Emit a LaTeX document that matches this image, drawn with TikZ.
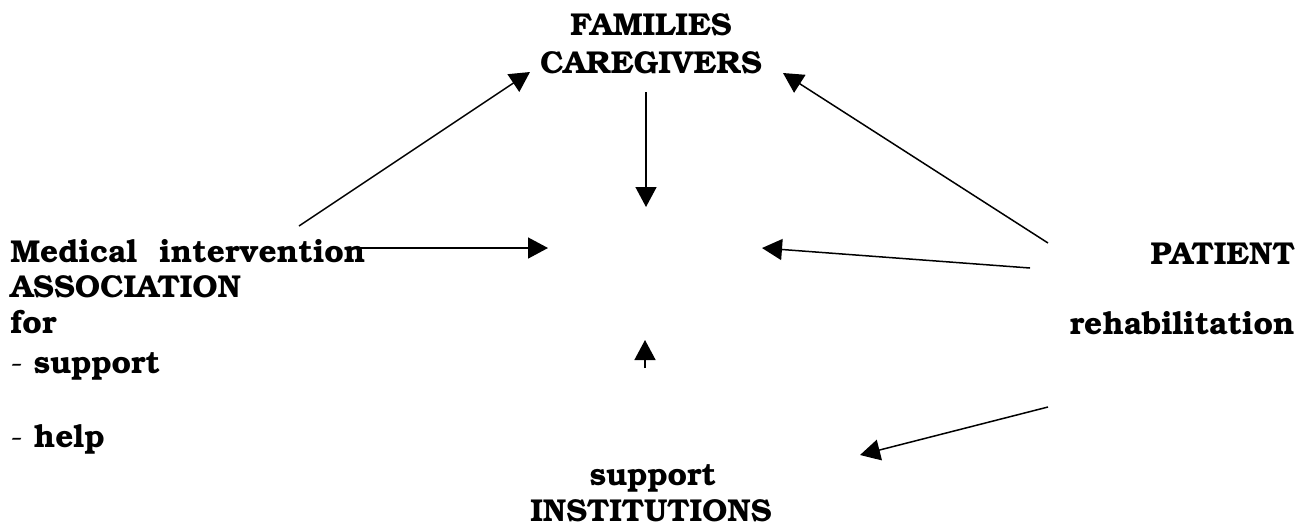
\documentclass[tikz,border=0pt]{standalone}
\usepackage[T1]{fontenc}
\usepackage{bookman}
\usetikzlibrary{arrows.meta}

\tikzset{
  word/.style={inner sep=0pt, font=\fontsize{15.8}{18}\selectfont\bfseries},
  flow/.style={line width=0.75pt, -{Triangle[length=10pt,width=10.5pt]}}
}

\begin{document}
\begin{tikzpicture}[x=0.5pt, y=-0.5pt]
			\useasboundingbox (0,0) rectangle (1310,526);
			% texts on top and bottom
			\node[word, anchor=base] (fam) at (651,35) {FAMILIES};
			\node[word, anchor=base] (care) at (651,73) {CAREGIVERS};
			\node[word, anchor=base] (supp) at (653,485) {support};
			\node[word, anchor=base] (inst) at (651,521) {INSTITUTIONS};
			% left column
			\node[word, anchor=base west] (med) at (10,262) {Medical\hspace{11pt}intervention};
			\node[word, anchor=base west] (assoc) at (10,297) {ASSOCIATION};
			\node[word, anchor=base west] (for) at (10,333) {for};
			\node[word, anchor=base west] (sup) at (10,373) {\textmd{-} support};
			\node[word, anchor=base west] (help) at (10,447) {\textmd{-} help};
			% right column
			\node[word, anchor=base east] (pat) at (1295,264) {PATIENT};
			\node[word, anchor=base east] (rehab) at (1295,334) {rehabilitation};
			% free ends of the arrows
			\coordinate (med-a) at (299,226);
			\coordinate (med-b) at (360,248);
			\coordinate (care-a) at (646,92);
			\coordinate (pat-a) at (1048,243);
			\coordinate (pat-b) at (1030,268);
			\coordinate (rehab-a) at (1048,407);
			\coordinate (hub-t) at (646,207);
			\coordinate (hub-l) at (548,248);
			\coordinate (hub-r) at (762,248);
			\coordinate (hub-b) at (645,340);
			\coordinate (inst-a) at (645,368);
			\coordinate (hub-br) at (860,455);
			\coordinate (fam-l) at (530,72);
			\coordinate (fam-r) at (783,73);
			% arrows
			\draw[flow] (med-a) -- (fam-l);
			\draw[flow] (med-b) -- (hub-l);
			\draw[flow] (care-a) -- (hub-t);
			\draw[flow] (pat-a) -- (fam-r);
			\draw[flow] (pat-b) -- (hub-r);
			\draw[flow] (inst-a) -- (hub-b);
			\draw[flow] (rehab-a) -- (hub-br);
		\end{tikzpicture}
\end{document}
